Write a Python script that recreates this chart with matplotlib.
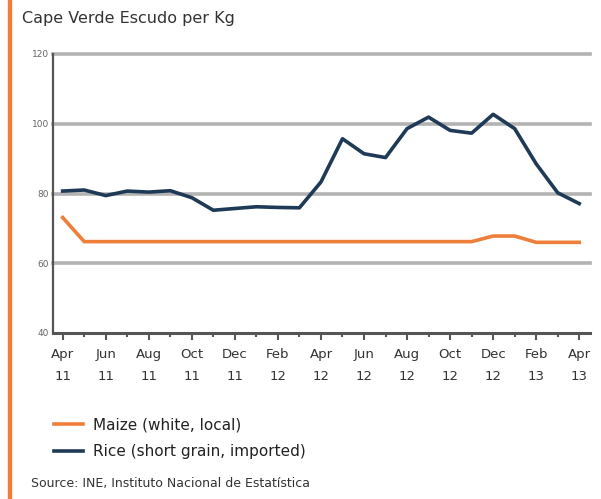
import numpy as np
import matplotlib.pyplot as plt
from matplotlib.lines import Line2D
from matplotlib.patches import Rectangle

# months from Apr 2011 (0) to Apr 2013 (24)
months = list(range(25))
tick_labels = ["Apr\n11", "Jun\n11", "Aug\n11", "Oct\n11", "Dec\n11", "Feb\n12", "Apr\n12",
               "Jun\n12", "Aug\n12", "Oct\n12", "Dec\n12", "Feb\n13", "Apr\n13"]

maize = [73.1, 66.2, 66.2, 66.2, 66.2, 66.2, 66.2, 66.2, 66.2, 66.2, 66.2, 66.2, 66.2,
         66.2, 66.2, 66.2, 66.2, 66.2, 66.2, 66.2, 67.8, 67.8, 66.0, 66.0, 66.0]
rice = [80.7, 81.0, 79.4, 80.7, 80.4, 80.8, 78.8, 75.2, 75.7, 76.2, 76.0, 75.9, 83.3,
        95.7, 91.4, 90.3, 98.6, 101.9, 98.1, 97.3, 102.7, 98.6, 88.5, 80.2, 77.1]

orange = "#ee7f3b"
navy = "#1e3a56"

fig = plt.figure(figsize=(6.01, 4.99), dpi=100)
fig.patches.append(Rectangle((8 / 601, 0), 3 / 601, 1, transform=fig.transFigure,
                             color=orange, zorder=0))

ax = fig.add_axes([53 / 601, 1 - 333 / 499, (590 - 53) / 601, (333 - 54) / 499])
ax.set_xlim(-0.45, 24.5)
ax.set_ylim(40, 120)

for v in [60, 80, 100, 120]:
    ax.axhline(v, color="#b3b3b3", lw=2.6, zorder=1, clip_on=False)

ax.plot(months, maize, color=orange, lw=2.6, zorder=3, solid_joinstyle="round")
ax.plot(months, rice, color=navy, lw=2.6, zorder=3, solid_joinstyle="round")

for s in ["top", "right"]:
    ax.spines[s].set_visible(False)
ax.spines["left"].set_color("#555555")
ax.spines["left"].set_linewidth(1.6)
ax.spines["bottom"].set_color("#555555")
ax.spines["bottom"].set_linewidth(2.2)

ax.set_yticks([40, 60, 80, 100, 120])
ax.tick_params(axis="y", length=0, labelsize=6.5, labelcolor="#666666", pad=3)
ax.set_xticks(range(0, 25, 2))
ax.set_xticklabels(tick_labels, linespacing=1.85)
ax.set_xticks(range(1, 25, 2), minor=True)
ax.tick_params(axis="x", which="major", length=5, width=1.5, color="#555555",
               labelsize=9.5, labelcolor="#333333", pad=6)
ax.tick_params(axis="x", which="minor", length=3, width=1.5, color="#555555")

fig.text(22 / 601, 1 - 18 / 499, "Cape Verde Escudo per Kg", fontsize=11.5,
         color="#333333", va="center", ha="left")

handles = [Line2D([], [], color=orange, lw=2.6), Line2D([], [], color=navy, lw=2.6)]
fig.legend(handles, ["Maize (white, local)", "Rice (short grain, imported)"],
           loc="upper left", bbox_to_anchor=(40 / 601, 1 - 404 / 499), frameon=False,
           fontsize=11, handlelength=1.9, labelspacing=0.75, handletextpad=0.7,
           labelcolor="#222222")

fig.text(31 / 601, 1 - 484 / 499, "Source: INE, Instituto Nacional de Estatística",
         fontsize=9, color="#333333", va="center", ha="left")

fig.savefig("out.png", dpi=100)
